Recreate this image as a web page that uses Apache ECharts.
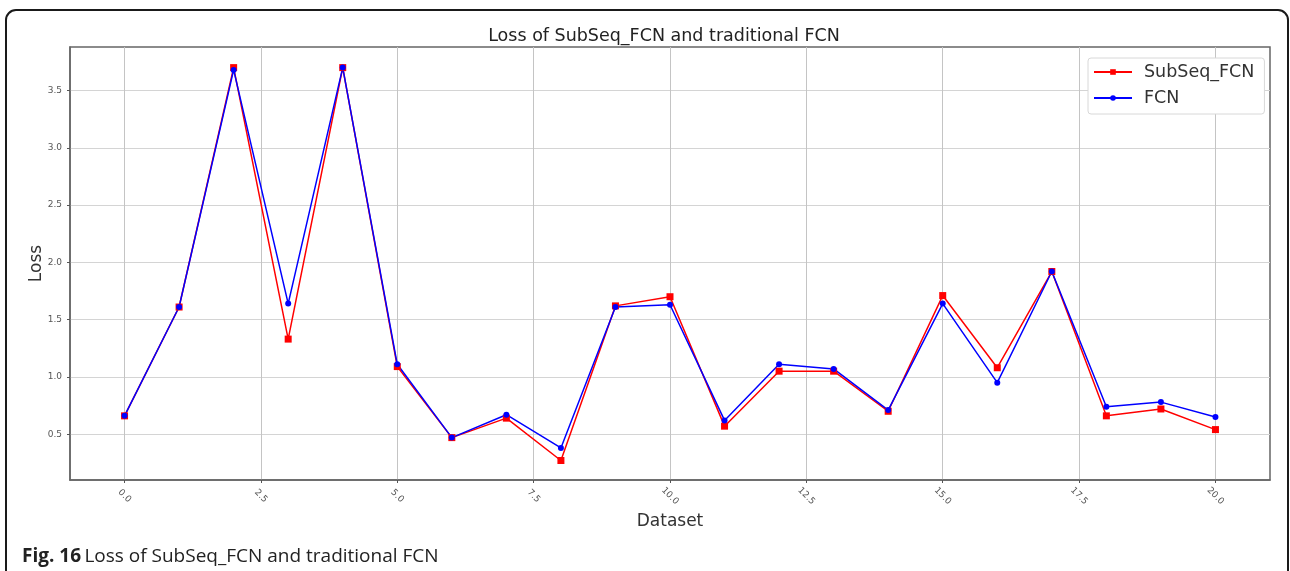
<!DOCTYPE html>
<html>
<head>
<meta charset="utf-8">
<script src="https://cdn.jsdelivr.net/npm/echarts@6/dist/echarts.min.js"></script>
<style>
  html, body { margin: 0; padding: 0; background: #fff; }
  #chart { width: 1290px; height: 571px; }
</style>
</head>
<body>
<div id="chart"></div>
<script>
// Dataset index on the x axis
const datasets = [0, 1, 2, 3, 4, 5, 6, 7, 8, 9, 10, 11, 12, 13, 14, 15, 16, 17, 18, 19, 20];
// Loss per dataset
const subseqFcnLoss = [0.66, 1.61, 3.70, 1.33, 3.70, 1.09, 0.47, 0.64, 0.27, 1.62, 1.70, 0.57, 1.05, 1.05, 0.70, 1.71, 1.08, 1.92, 0.66, 0.72, 0.54];
const fcnLoss       = [0.66, 1.61, 3.68, 1.64, 3.70, 1.11, 0.47, 0.67, 0.38, 1.61, 1.63, 0.62, 1.11, 1.07, 0.71, 1.64, 0.95, 1.92, 0.74, 0.78, 0.65];
// Tick positions
const xTicks = [0, 2.5, 5, 7.5, 10, 12.5, 15, 17.5, 20];
const yTicks = [0.5, 1.0, 1.5, 2.0, 2.5, 3.0, 3.5];

const FONT = 'DejaVu Sans';
const chart = echarts.init(document.getElementById('chart'), null, { renderer: 'canvas' });

const pairs = arr => datasets.map((d, i) => [d, arr[i]]);

chart.setOption({
  backgroundColor: '#ffffff',
  animation: false,
  title: {
    text: 'Loss of SubSeq_FCN and traditional FCN',
    left: 659, top: 22, textAlign: 'center',
    textStyle: { fontFamily: FONT, fontSize: 17.5, fontWeight: 'normal', color: '#222' }
  },
  legend: {
    orient: 'vertical',
    left: 1088, top: 58,
    padding: [5, 10, 7, 5],
    itemGap: 8,
    itemWidth: 38, itemHeight: 7,
    backgroundColor: '#fff',
    borderColor: '#d8d8d8', borderWidth: 1, borderRadius: 3,
    textStyle: { fontFamily: FONT, fontSize: 17.5, color: '#333', padding: [0, 0, 0, 7] },
    data: ['SubSeq_FCN', 'FCN']
  },
  grid: {
    left: 70, right: 20, top: 47, bottom: 91,
    show: true, borderColor: '#666', borderWidth: 1.5, backgroundColor: 'transparent'
  },
  xAxis: {
    type: 'value', min: -1, max: 21,
    name: 'Dataset', nameLocation: 'middle', nameGap: 33, nameMoveOverlap: false,
    nameTextStyle: { fontFamily: FONT, fontSize: 17, color: '#333' },
    axisLine: { show: true, onZero: false, lineStyle: { color: '#666', width: 1.5 } },
    axisTick: { show: true, customValues: xTicks, length: 3, lineStyle: { color: '#555' } },
    axisLabel: {
      customValues: xTicks, rotate: -45, align: 'center', verticalAlign: 'middle', margin: 16,
      fontFamily: FONT, fontSize: 9, color: '#555',
      formatter: v => v.toFixed(1)
    },
    splitLine: { show: true, lineStyle: { color: '#c4c4c4', width: 1 } }
  },
  yAxis: {
    type: 'value', min: 0.1, max: 3.88,
    name: 'Loss', nameLocation: 'middle', nameGap: 25, nameRotate: 90, nameMoveOverlap: false,
    nameTextStyle: { fontFamily: FONT, fontSize: 17, color: '#333' },
    axisLine: { show: true, onZero: false, lineStyle: { color: '#666', width: 1.5 } },
    axisTick: { show: true, customValues: yTicks, length: 3, lineStyle: { color: '#555' } },
    axisLabel: {
      customValues: yTicks, margin: 8,
      fontFamily: FONT, fontSize: 9, color: '#555',
      formatter: v => v.toFixed(1)
    },
    splitLine: { show: true, lineStyle: { color: '#d4d4d4', width: 1 } }
  },
  series: [
    {
      name: 'SubSeq_FCN', type: 'line', data: pairs(subseqFcnLoss),
      symbol: 'rect', symbolSize: 7,
      lineStyle: { color: '#ff0000', width: 1.5 },
      itemStyle: { color: '#ff0000' }
    },
    {
      name: 'FCN', type: 'line', data: pairs(fcnLoss),
      symbol: 'circle', symbolSize: 6,
      lineStyle: { color: '#0000ff', width: 1.5 },
      itemStyle: { color: '#0000ff' }
    }
  ],
  graphic: [
    {
      type: 'rect', silent: true, z: 100,
      shape: { x: 6, y: 10, width: 1282, height: 620, r: 10 },
      style: { fill: 'none', stroke: '#1a1a1a', lineWidth: 2 }
    },
    {
      type: 'text', left: 22, top: 547, z: 100,
      style: {
        text: '{b|Fig. 16} {r|Loss of SubSeq_FCN and traditional FCN}',
        rich: {
          b: { fontFamily: 'Open Sans', fontSize: 19, fontWeight: 'bold', fill: '#222' },
          r: { fontFamily: 'Open Sans', fontSize: 19, fill: '#222' }
        }
      }
    }
  ]
});
</script>
</body>
</html>
